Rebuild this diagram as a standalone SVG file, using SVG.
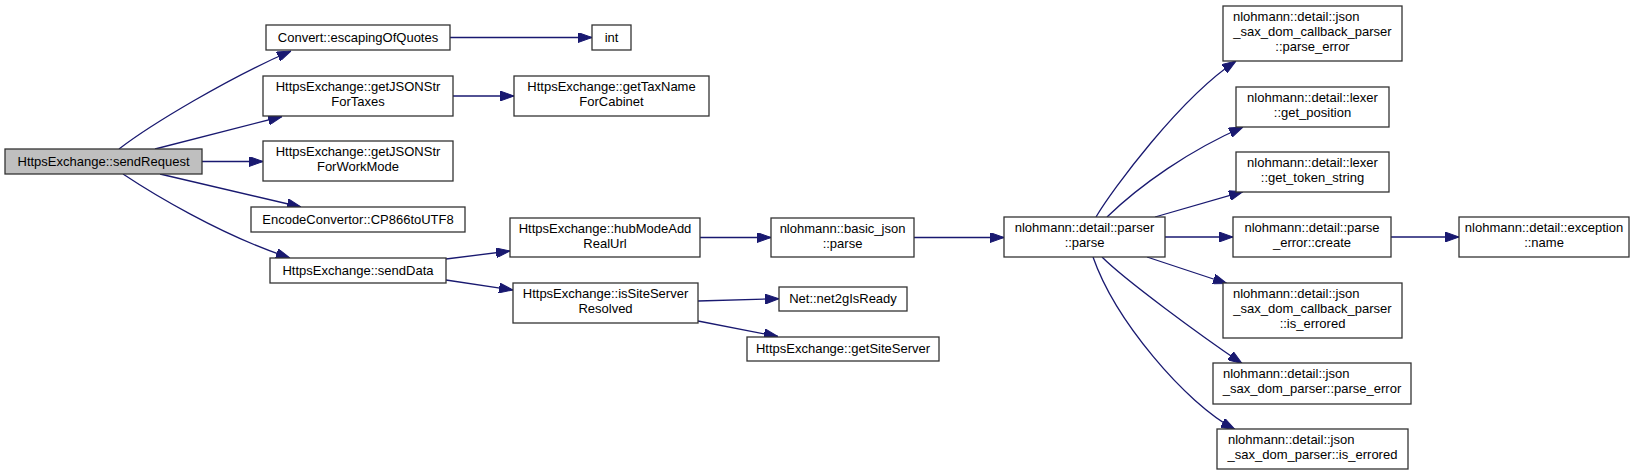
<svg xmlns="http://www.w3.org/2000/svg" width="1647" height="475" viewBox="0 0 1647 475">
<defs>
<style>
.node rect{fill:#ffffff;stroke:#333333;stroke-width:1.3}
.node.root rect{fill:#bfbfbf}
.node text{font-family:"Liberation Sans",Arial,sans-serif;font-size:13px;fill:#000000;text-anchor:middle}
.node text.l{text-anchor:start}
.edges path{fill:none;stroke:#191970;stroke-width:1.3;marker-end:url(#arrow)}
</style>
<marker id="arrow" markerUnits="userSpaceOnUse" markerWidth="14" markerHeight="10" refX="14" refY="5" orient="auto" viewBox="0 0 14 10">
<path d="M0,0 L14,5 L0,10 z" fill="#191970" stroke="#191970" stroke-width="1"/>
</marker>
</defs>
<rect width="1647" height="475" fill="#ffffff"/>
<g id="edges" class="edges">
<path d="M119,149 C150,125 230,77 291,51"/>
<path d="M155,149 L282,116.5"/>
<path d="M202,161.5 L263,161.5"/>
<path d="M160,174 L301,207"/>
<path d="M123,174 C150,192 220,235 290,258"/>
<path d="M450,37.5 L592,37.5"/>
<path d="M453,96 L514,96"/>
<path d="M446,259 L510,251"/>
<path d="M446,280 L513,290"/>
<path d="M700,237.5 L771,237.5"/>
<path d="M698,301 L779,298.7"/>
<path d="M698,321 L778,336.5"/>
<path d="M914,237.5 L1004,237.5"/>
<path d="M1096,217 C1112,190 1180,98 1236,61"/>
<path d="M1107,217 C1140,185 1190,150 1243,127"/>
<path d="M1155,217 L1243,191.7"/>
<path d="M1165,237 L1233,237"/>
<path d="M1147,257 L1227,283.5"/>
<path d="M1102,257 C1125,280 1200,335 1242,363.5"/>
<path d="M1093,257 C1115,320 1185,403 1235,429.5"/>
<path d="M1391,237 L1459,237"/>
</g>
<g id="n0" class="node root"><rect x="5" y="149" width="197" height="25"/><text x="103.5" y="166">HttpsExchange::sendRequest</text></g>
<g id="n1" class="node"><rect x="266" y="25" width="184" height="25"/><text x="358" y="42">Convert::escapingOfQuotes</text></g>
<g id="n2" class="node"><rect x="592" y="25" width="39" height="25"/><text x="611.5" y="42">int</text></g>
<g id="n3" class="node"><rect x="263" y="76" width="190" height="40"/><text x="358" y="91">HttpsExchange::getJSONStr</text><text x="358" y="106">ForTaxes</text></g>
<g id="n4" class="node"><rect x="514" y="76" width="195" height="40"/><text x="611.5" y="91">HttpsExchange::getTaxName</text><text x="611.5" y="106">ForCabinet</text></g>
<g id="n5" class="node"><rect x="263" y="141" width="190" height="40"/><text x="358" y="156">HttpsExchange::getJSONStr</text><text x="358" y="171">ForWorkMode</text></g>
<g id="n6" class="node"><rect x="251" y="207" width="214" height="25"/><text x="358" y="224">EncodeConvertor::CP866toUTF8</text></g>
<g id="n7" class="node"><rect x="270" y="258" width="176" height="25"/><text x="358" y="275">HttpsExchange::sendData</text></g>
<g id="n8" class="node"><rect x="510" y="218" width="190" height="39"/><text x="605" y="233">HttpsExchange::hubModeAdd</text><text x="605" y="248">RealUrl</text></g>
<g id="n9" class="node"><rect x="513" y="283" width="185" height="40"/><text x="605.5" y="298">HttpsExchange::isSiteServer</text><text x="605.5" y="313">Resolved</text></g>
<g id="n10" class="node"><rect x="771" y="218" width="143" height="39"/><text x="842.5" y="233">nlohmann::basic_json</text><text x="842.5" y="248">::parse</text></g>
<g id="n11" class="node"><rect x="779" y="287" width="128" height="24"/><text x="843" y="303">Net::net2gIsReady</text></g>
<g id="n12" class="node"><rect x="747" y="337" width="192" height="24"/><text x="843" y="353">HttpsExchange::getSiteServer</text></g>
<g id="n13" class="node"><rect x="1004" y="217" width="161" height="40"/><text x="1084.5" y="232">nlohmann::detail::parser</text><text x="1084.5" y="247">::parse</text></g>
<g id="n14" class="node"><rect x="1223" y="6" width="179" height="55"/><text class="l" x="1233" y="21">nlohmann::detail::json</text><text x="1312.5" y="36">_sax_dom_callback_parser</text><text x="1312.5" y="51">::parse_error</text></g>
<g id="n15" class="node"><rect x="1236" y="87" width="153" height="40"/><text x="1312.5" y="102">nlohmann::detail::lexer</text><text x="1312.5" y="117">::get_position</text></g>
<g id="n16" class="node"><rect x="1236" y="152" width="153" height="40"/><text x="1312.5" y="167">nlohmann::detail::lexer</text><text x="1312.5" y="182">::get_token_string</text></g>
<g id="n17" class="node"><rect x="1233" y="217" width="158" height="40"/><text x="1312" y="232">nlohmann::detail::parse</text><text x="1312" y="247">_error::create</text></g>
<g id="n18" class="node"><rect x="1223" y="283" width="179" height="55"/><text class="l" x="1233" y="298">nlohmann::detail::json</text><text x="1312.5" y="313">_sax_dom_callback_parser</text><text x="1312.5" y="328">::is_errored</text></g>
<g id="n19" class="node"><rect x="1213" y="363" width="198" height="41"/><text class="l" x="1223" y="378">nlohmann::detail::json</text><text x="1312" y="393">_sax_dom_parser::parse_error</text></g>
<g id="n20" class="node"><rect x="1217" y="429" width="191" height="40"/><text class="l" x="1228" y="444">nlohmann::detail::json</text><text x="1312.5" y="459">_sax_dom_parser::is_errored</text></g>
<g id="n21" class="node"><rect x="1459" y="217" width="170" height="40"/><text x="1544" y="232">nlohmann::detail::exception</text><text x="1544" y="247">::name</text></g>
</svg>
